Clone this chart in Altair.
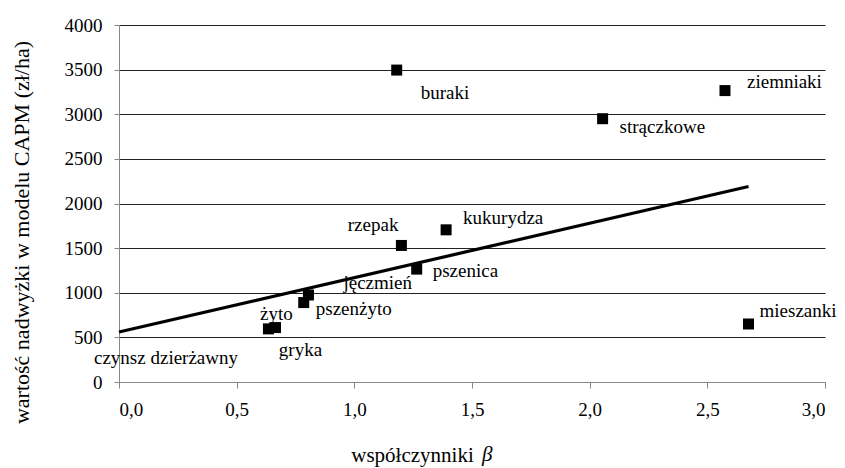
import altair as alt
import pandas as pd

# data
names = ["buraki", "ziemniaki", "strączkowe", "kukurydza", "rzepak", "pszenica",
         "jęczmień", "pszenżyto", "żyto", "gryka", "mieszanki"]
beta = [1.18, 2.575, 2.055, 1.39, 1.20, 1.265, 0.805, 0.785, 0.635, 0.665, 2.675]
value = [3495, 3265, 2950, 1705, 1530, 1265, 975, 890, 595, 610, 650]

line_beta = [0.0, 2.675]
line_value = [560, 2190]

rent_label = "czynsz dzierżawny"
rent_beta = 0.0
rent_value = 560

# label offsets (px) relative to each point: (dx, dy, align)
label_offsets = {
    "buraki": (24, 23, "left"),
    "ziemniaki": (22, -9, "left"),
    "strączkowe": (17, 8, "left"),
    "kukurydza": (17, -12, "left"),
    "rzepak": (-3, -20, "right"),
    "pszenica": (16, 2, "left"),
    "jęczmień": (35, -12, "left"),
    "pszenżyto": (12, 6, "left"),
    "żyto": (8, -15, "center"),
    "gryka": (25, 22, "center"),
    "mieszanki": (11, -13, "left"),
}

FONT = "Liberation Serif"
FS = 19
TFS = 21

df = pd.DataFrame({"name": names, "beta": beta, "value": value})
line_df = pd.DataFrame({"beta": line_beta, "value": line_value})

xscale = alt.Scale(domain=[0, 3], nice=False)
yscale = alt.Scale(domain=[0, 4000], nice=False)

x_enc = alt.X("beta:Q", scale=xscale,
              axis=alt.Axis(values=[0, 0.5, 1, 1.5, 2, 2.5, 3],
                            labelExpr="replace(format(datum.value, '.1f'), '.', ',')",
                            grid=False, domainColor="#888888", tickColor="#888888",
                            tickSize=6, labelPadding=12, labelFontSize=FS,
                            labelFont=FONT, labelColor="black",
                            title="współczynniki", titleFont=FONT, titleFontSize=TFS,
                            titleFontWeight="normal", titleColor="black",
                            titleX=293, titleY=73, titleBaseline="middle",
                            titleAlign="center"))
y_enc = alt.Y("value:Q", scale=yscale,
              axis=alt.Axis(values=list(range(0, 4001, 500)), format="d",
                            grid=True, gridColor="#222222", gridWidth=1,
                            domainColor="#888888", tickColor="#888888",
                            tickSize=5, labelPadding=12, labelFontSize=FS,
                            labelFont=FONT, labelColor="black",
                            title="wartość  nadwyżki w modelu CAPM (zł/ha)",
                            titleFont=FONT, titleFontSize=22, titleFontWeight="normal",
                            titleColor="black", titleX=-98, titleY=207,
                            titleBaseline="middle", titleAlign="center", titleAngle=-90))

points = alt.Chart(df).mark_square(size=121, color="black", opacity=1).encode(x=x_enc, y=y_enc)

line = alt.Chart(line_df).mark_line(color="black", strokeWidth=3.2).encode(
    x=alt.X("beta:Q", scale=xscale), y=alt.Y("value:Q", scale=yscale))

layers = [line, points]
for n, b, v in zip(names, beta, value):
    dx, dy, al = label_offsets[n]
    t = alt.Chart(pd.DataFrame({"name": [n], "beta": [b], "value": [v]})).mark_text(
        font=FONT, fontSize=FS, color="black", align=al, baseline="middle", dx=dx, dy=dy
    ).encode(x=alt.X("beta:Q", scale=xscale), y=alt.Y("value:Q", scale=yscale), text="name:N")
    layers.append(t)

rent = alt.Chart(pd.DataFrame({"name": [rent_label], "beta": [rent_beta], "value": [rent_value]})).mark_text(
    font=FONT, fontSize=FS, color="black", align="center", baseline="middle", dx=47, dy=26
).encode(x=alt.X("beta:Q", scale=xscale), y=alt.Y("value:Q", scale=yscale), text="name:N")
layers.append(rent)

beta_sym = alt.Chart(pd.DataFrame({"t": ["β"]})).mark_text(
    font=FONT, fontSize=TFS, fontStyle="italic", color="black", align="left", baseline="middle"
).encode(x=alt.value(363), y=alt.value(430), text="t:N")
layers.append(beta_sym)

chart = alt.layer(*layers).properties(
    width=706, height=357,
    autosize=alt.AutoSizeParams(type="none"),
    padding={"left": 111, "top": 17, "right": 12, "bottom": 86},
    background="white",
).configure(font=FONT).configure_view(stroke=None)

chart.save("out.html", embed_options={"renderer": "svg", "actions": False})
